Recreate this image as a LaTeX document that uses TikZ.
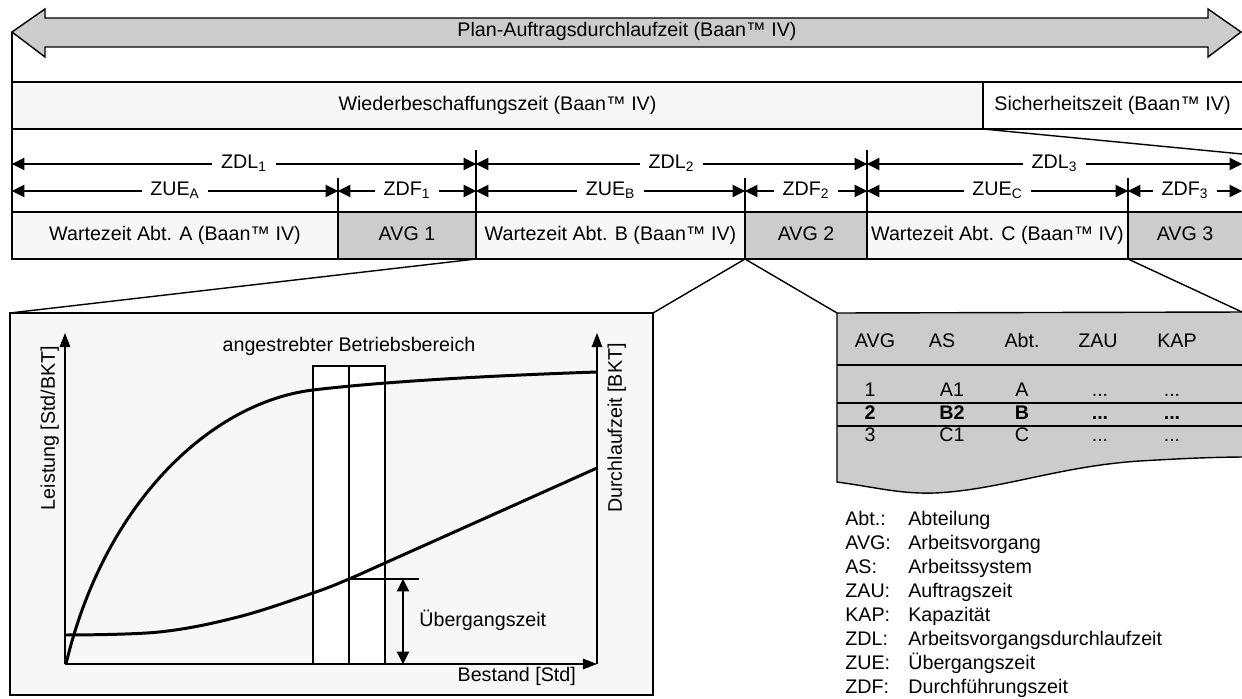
\documentclass[tikz,border=0pt]{standalone}
\usepackage{fontspec}
\setmainfont{Liberation Sans}
\usepackage{xcolor}
\usetikzlibrary{arrows.meta, fit}
\definecolor{lightfill}{HTML}{F7F7F7}
\definecolor{midgray}{HTML}{CCCCCC}

\begin{document}
\begin{tikzpicture}[
    x=0.02cm, y=-0.02cm,
    every node/.style={font=\fontsize{11.2}{13}\selectfont, text height=8pt, text depth=2.4pt},
    cell/.style={draw, line width=0.8pt, inner sep=0pt, outer sep=0pt, fill=#1},
    cell/.default=lightfill,
    dim/.style={{Triangle[length=7pt,width=7pt]}-{Triangle[length=7pt,width=7pt]}, line width=0.6pt},
    dimlbl/.style={fill=white, inner xsep=5pt, inner ysep=1pt},
    tick/.style={line width=0.8pt},
    zoomln/.style={line width=0.8pt},
    axis/.style={-{Triangle[length=8pt,width=6pt]}, line width=0.6pt},
    kurve/.style={line width=1.7pt},
    legkey/.style={anchor=west, inner sep=0pt}
]
    \useasboundingbox (0,0) rectangle (1242,699);

    % Plan-Auftragsdurchlaufzeit
    \draw[line width=0.8pt, fill=midgray] (12,32) -- (45,9) -- (45,18) -- (1208,18) -- (1208,9)
        -- (1241,32) -- (1208,57) -- (1208,47) -- (45,47) -- (45,57) -- cycle;
    \node (plan) at (627,32) {Plan-Auftragsdurchlaufzeit (Baan™ IV)};

    % Wiederbeschaffungszeit row
    \node[cell, fit={(12,82) (983,129)}] (wbz) {};
    \node[cell=white, fit={(983,82) (1250,129)}] (siz) {};
    \node (wbzt) at (wbz.center) {Wiederbeschaffungszeit (Baan™ IV)};
    \node (sizt) at (1112.5,105.5) {Sicherheitszeit (Baan™ IV)};

    % Wartezeit / AVG row
    \node[cell, fit={(12,212) (338,259)}] (wzA) {};
    \node[cell=midgray, fit={(338,212) (476,259)}] (avg1) {};
    \node[cell, fit={(476,212) (745,259)}] (wzB) {};
    \node[cell=midgray, fit={(745,212) (867,259)}] (avg2) {};
    \node[cell, fit={(867,212) (1128,259)}] (wzC) {};
    \node[cell=midgray, fit={(1128,212) (1250,259)}] (avg3) {};
    \node (wzAt) at (wzA.center) {Wartezeit Abt. A (Baan™ IV)};
    \node (avg1t) at (avg1.center) {AVG 1};
    \node (wzBt) at (wzB.center) {Wartezeit Abt. B (Baan™ IV)};
    \node (avg2t) at (avg2.center) {AVG 2};
    \node (wzCt) at (wzC.center) {Wartezeit Abt. C (Baan™ IV)};
    \node (avg3t) at (1185,235.5) {AVG 3};

    % left border
    \draw[tick] (12,32) -- (wzA.south west);

    % dimension levels
    \coordinate (zdl) at (0,164);
    \coordinate (zue) at (0,191);
    \coordinate (zdltop) at (0,150);
    \coordinate (zuetop) at (0,178);
    \coordinate (rand) at (1242,0);

    \draw[tick] (avg1.south east) -- (avg1.north east |- zdltop);
    \draw[tick] (avg2.south east) -- (avg2.north east |- zdltop);
    \draw[tick] (avg1.south west) -- (avg1.north west |- zuetop);
    \draw[tick] (avg2.south west) -- (avg2.north west |- zuetop);
    \draw[tick] (avg3.south west) -- (avg3.north west |- zuetop);

    \draw[dim] (wzA.west |- zdl) -- (avg1.east |- zdl) node[midway, dimlbl] (zdl1) {ZDL\textsubscript{1}};
    \draw[dim] (wzB.west |- zdl) -- (avg2.east |- zdl) node[midway, dimlbl] (zdl2) {ZDL\textsubscript{2}};
    \draw[dim] (wzC.west |- zdl) -- (rand |- zdl) node[midway, dimlbl] (zdl3) {ZDL\textsubscript{3}};
    \draw[dim] (wzA.west |- zue) -- (wzA.east |- zue) node[midway, dimlbl] (zueA) {ZUE\textsubscript{A}};
    \draw[dim] (avg1.west |- zue) -- (avg1.east |- zue) node[midway, dimlbl] (zdf1) {ZDF\textsubscript{1}};
    \draw[dim] (wzB.west |- zue) -- (wzB.east |- zue) node[midway, dimlbl] (zueB) {ZUE\textsubscript{B}};
    \draw[dim] (avg2.west |- zue) -- (avg2.east |- zue) node[midway, dimlbl] (zdf2) {ZDF\textsubscript{2}};
    \draw[dim] (wzC.west |- zue) -- (wzC.east |- zue) node[midway, dimlbl] (zueC) {ZUE\textsubscript{C}};
    \draw[dim] (avg3.west |- zue) -- (rand |- zue) node[midway, dimlbl] (zdf3) {ZDF\textsubscript{3}};

    % Chart box
    \node[cell, fit={(10,313) (653,695)}] (chart) {};

    % Table shape
    \coordinate (tabnw) at (837,313);
    \coordinate (tabne) at (1242,312);
    \draw[line width=0.8pt, fill=midgray] (1250,312) -- (tabnw) -- (837,482)
        .. controls (880,488) and (900,494) .. (935,493)
        .. controls (1000,490) and (1060,466) .. (1140,461)
        .. controls (1190,458) and (1220,457) .. (1250,457);

    % zoom lines
    \draw[zoomln] (siz.south west) -- (1242,154);
    \draw[zoomln] (avg1.south east) -- (chart.north west);
    \draw[zoomln] (avg2.south west) -- (chart.north east);
    \draw[zoomln] (avg2.south west) -- (tabnw);
    \draw[zoomln] (avg3.south west) -- (tabne);

    % Betriebsbereich
    \draw[line width=0.6pt, fill=white] (313,366) rectangle (385,664);
    \draw[line width=0.6pt] (349,366) -- (349,664);
    \node (bb) at (349,347) {angestrebter Betriebsbereich};

    % axes
    \coordinate (o) at (65,664);
    \coordinate (or) at (597,664);
    \draw[axis] (o) -- (65,333);
    \draw[axis] (o) -- (or);
    \draw[axis] (or) -- (597,333);
    \node[rotate=90] (yl) at (50,428) {Leistung [Std/BKT]};
    \node[rotate=90] (yr) at (617,428) {Durchlaufzeit [BKT]};
    \node[anchor=east] (xl) at (582,677) {Bestand [Std]};

    % curves
    \draw[kurve] (66,664) .. controls (105,500) and (213,402) .. (313,390)
        .. controls (380,382) and (480,376) .. (597,372);
    \draw[kurve] plot[smooth, tension=0.6] coordinates {(65,635) (159,632) (238,617) (313,593)
        (349,579) (385,563) (490,516) (597,468)};

    % Uebergangszeit
    \coordinate (ue) at (349,579);
    \draw[line width=0.6pt] (ue) -- (419,579);
    \draw[dim] (403,579) -- (o -| 403,0);
    \node[anchor=west, inner sep=0pt] (uet) at (419,622) {Übergangszeit};

    % Table content
    \foreach \t/\x in {AVG/875, AS/942, Abt./1022, ZAU/1098, KAP/1177}
        \node (h\t) at (\x,343) {\t};
    \draw[line width=0.8pt] (837,365) -- (1250,365);
    \draw[line width=0.8pt] (837,403) -- (1250,403);
    \draw[line width=0.8pt] (837,426) -- (1250,426);
    \foreach \a/\b/\c/\y/\f [count=\i] in {1/A1/A/392/\mdseries, 2/B2/B/415/\bfseries, 3/C1/C/437/\mdseries} {
        \node[font=\fontsize{11.2}{13}\selectfont\f] (r\i a) at (870,\y) {\a};
        \node[font=\fontsize{11.2}{13}\selectfont\f] (r\i b) at (952,\y) {\b};
        \node[font=\fontsize{11.2}{13}\selectfont\f] (r\i c) at (1022,\y) {\c};
        \node[font=\fontsize{11.2}{13}\selectfont\f] (r\i d) at (1100,\y) {...};
        \node[font=\fontsize{11.2}{13}\selectfont\f] (r\i e) at (1172,\y) {...};
    }

    % Legend
    \foreach \k/\v [count=\i] in {Abt.:/Abteilung, AVG:/Arbeitsvorgang, AS:/Arbeitssystem,
        ZAU:/Auftragszeit, KAP:/Kapazität, ZDL:/Arbeitsvorgangsdurchlaufzeit,
        ZUE:/Übergangszeit, ZDF:/Durchführungszeit} {
        \node[legkey] (k\i) at (845,{497+23.9*\i}) {\k};
        \node[legkey] (v\i) at (908,{497+23.9*\i}) {\v};
    }
\end{tikzpicture}
\end{document}
